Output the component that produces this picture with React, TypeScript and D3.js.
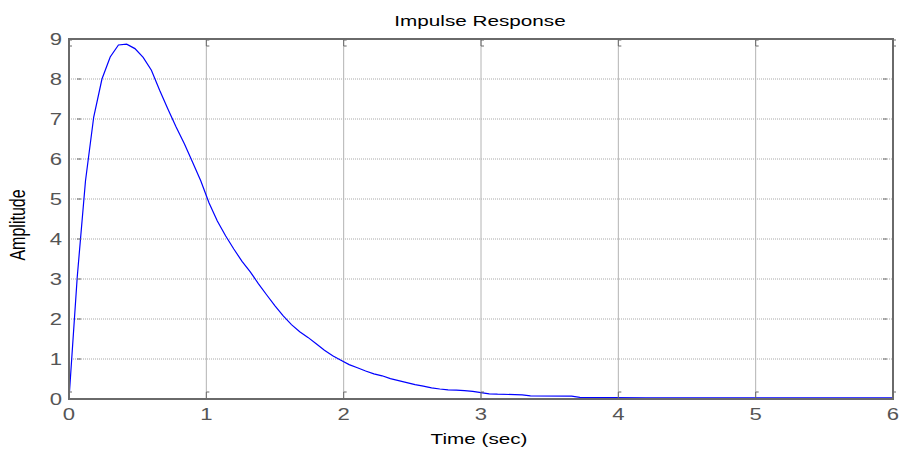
import React from "react";
import * as d3 from "d3";

const timeValues = [
  0, 0.06, 0.12, 0.18, 0.24, 0.3, 0.36, 0.42, 0.48, 0.54, 0.6, 0.66, 0.72, 0.78, 0.84, 0.9, 0.96,
  1.02, 1.08, 1.14, 1.2, 1.26, 1.32, 1.38, 1.44, 1.5, 1.56, 1.62, 1.68, 1.74, 1.8, 1.86, 1.92,
  1.98, 2.04, 2.1, 2.16, 2.22, 2.28, 2.34, 2.4, 2.46, 2.52, 2.58, 2.64, 2.7, 2.76, 2.82, 2.88,
  2.94, 3.0, 3.06, 3.12, 3.3, 3.36, 3.66, 3.72, 4.2, 6.0,
];
const amplitudeValues = [
  0, 3.05, 5.45, 7.05, 8.0, 8.55, 8.85, 8.87, 8.76, 8.54, 8.22, 7.72, 7.25, 6.8, 6.38, 5.92, 5.45,
  4.9, 4.45, 4.08, 3.75, 3.44, 3.18, 2.88, 2.6, 2.33, 2.08, 1.86, 1.68, 1.54, 1.38, 1.22, 1.08,
  0.97, 0.86, 0.78, 0.7, 0.63, 0.58, 0.51, 0.46, 0.41, 0.36, 0.32, 0.28, 0.25, 0.23, 0.22, 0.21,
  0.19, 0.16, 0.13, 0.12, 0.105, 0.08, 0.07, 0.04, 0.03, 0.03,
];
const xTicks = [0, 1, 2, 3, 4, 5, 6];
const yTicks = [0, 1, 2, 3, 4, 5, 6, 7, 8, 9];
const titleText = "Impulse Response";
const xLabel = "Time (sec)";
const yLabel = "Amplitude";

const W = 904;
const H = 452;
const L = 69, R = 893, T = 39, B = 399;
const SX = 1.38;
const FONT = "'Liberation Sans', Arial, sans-serif";

function StretchText(props: { x: number; y: number; size: number; anchor: string; fill: string; rotate?: number; children: React.ReactNode }) {
  const { x, y, size, anchor, fill, rotate, children } = props;
  return (
    <g transform={`translate(${x},${y}) scale(${SX},1)${rotate ? ` rotate(${rotate})` : ""}`}>
      <text x={0} y={0} fontSize={size} fontFamily={FONT} textAnchor={anchor} fill={fill}>
        {children}
      </text>
    </g>
  );
}

export default function App() {
  const x = d3.scaleLinear().domain([0, 6]).range([L, R]);
  const y = d3.scaleLinear().domain([0, 9]).range([B, T]);
  const pts: [number, number][] = timeValues.map((t, i) => [t, amplitudeValues[i]]);
  const line = d3.line<[number, number]>().x((d) => x(d[0])).y((d) => y(d[1]));
  const axisColor = "#6a6a6a";

  return (
    <svg width={W} height={H} style={{ position: "absolute", left: 0, top: 0, background: "#fff" }}>
      <rect x={0} y={0} width={W} height={H} fill="#fff" />
      {/* horizontal grid */}
      {yTicks.slice(1, -1).map((v) => (
        <line key={"hg" + v} x1={L} x2={R} y1={y(v)} y2={y(v)} stroke="#a8a8a8" strokeWidth={1} strokeDasharray="1,1" />
      ))}
      {/* vertical grid */}
      {xTicks.slice(1, -1).map((v) => (
        <line key={"vg" + v} x1={x(v)} x2={x(v)} y1={T} y2={B} stroke="#b4b4b4" strokeWidth={1} />
      ))}
      {/* curve */}
      <path d={line(pts) || ""} fill="none" stroke="#0000ff" strokeWidth={1.2} />
      {/* axes box */}
      <rect x={L} y={T} width={R - L} height={B - T} fill="none" stroke={axisColor} strokeWidth={2} />
      {/* ticks */}
      {yTicks.map((v) => (
        <g key={"yt" + v} stroke={axisColor} strokeWidth={1}>
          <line x1={L + 8} x2={L + 12} y1={y(v)} y2={y(v)} />
          <line x1={R - 10} x2={R - 6} y1={y(v)} y2={y(v)} />
        </g>
      ))}
      {xTicks.map((v) => (
        <g key={"xt" + v} stroke={axisColor} strokeWidth={1} fill="none">
          <path d={`M${x(v)},${B} V${B - 7} H${x(v) + 3}`} />
          <path d={`M${x(v) + 3},${T + 1} H${x(v)} V${T + 7} H${x(v) + 3}`} />
        </g>
      ))}
      {/* tick labels */}
      {yTicks.map((v) => (
        <StretchText key={"yl" + v} x={62} y={y(v) + 6} size={16} anchor="end" fill="#555">
          {v}
        </StretchText>
      ))}
      {xTicks.map((v) => (
        <StretchText key={"xl" + v} x={x(v)} y={420} size={16} anchor="middle" fill="#555">
          {v}
        </StretchText>
      ))}
      <StretchText x={480} y={26} size={15} anchor="middle" fill="#000">
        {titleText}
      </StretchText>
      <StretchText x={479} y={444} size={15} anchor="middle" fill="#000">
        {xLabel}
      </StretchText>
      <StretchText x={25} y={225} size={16} anchor="middle" fill="#000" rotate={-90}>
        {yLabel}
      </StretchText>
    </svg>
  );
}
